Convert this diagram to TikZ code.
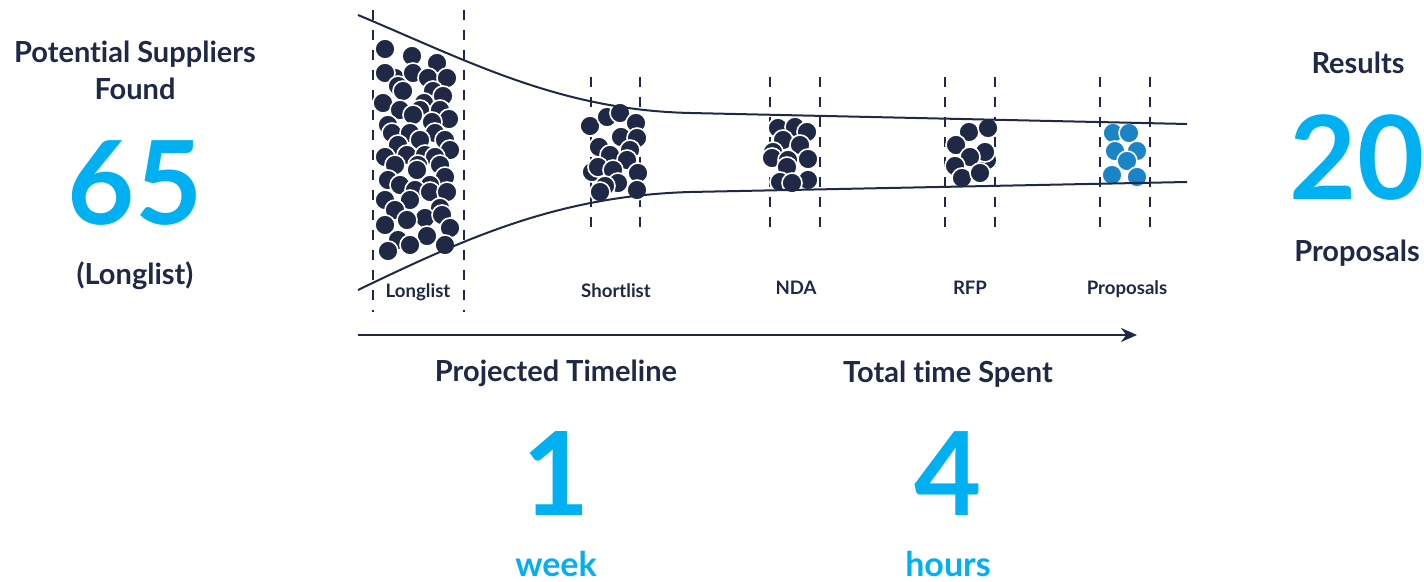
\documentclass[tikz,border=0pt]{standalone}
\usepackage{fontspec}
\setmainfont{Lato}[Ligatures=NoCommon]
\usetikzlibrary{arrows.meta}
\definecolor{navy}{HTML}{1F2845}
\definecolor{skyblue}{HTML}{00B0F0}
\definecolor{propblue}{HTML}{1B84C6}
\begin{document}
\begin{tikzpicture}[x=0.5pt, y=-0.5pt,
  every node/.style = {inner sep=0pt, anchor=base},
  heading/.style = {font=\fontsize{14.5}{18}\selectfont\bfseries, text=navy},
  bignum/.style = {font=\fontsize{58}{58}\selectfont\bfseries, text=skyblue},
  unit/.style = {font=\fontsize{17}{20}\selectfont\bfseries, text=skyblue},
  stage/.style = {font=\fontsize{9.3}{11}\selectfont\bfseries, text=navy},
  cut/.style = {draw=navy, line width=0.8pt, dash pattern=on 5pt off 5pt},
  funnel/.style = {draw=navy, line width=1pt},
  dot/.style = {fill=navy, draw=white, line width=0.8pt},
  propdot/.style = {fill=propblue, draw=white, line width=0.8pt}]
  \useasboundingbox (0,0) rectangle (1424,582);

  \draw[cut] (373,10) -- (373,312);
  \draw[cut] (464,10) -- (464,312);
  \foreach \xc in {591,640,770,820,945,995,1100,1150}
    \draw[cut] (\xc,77) -- (\xc,236);

  \foreach \px/\py in {385/49,412/56,437/63,395/78,385/73,413/73,428/78,447/78,398/86,
    403/91,433/91,443/96,383/103,424/103,400/110,420/110,440/110,413/115,449/119,
    388/125,432/122,392/133,410/133,435/133,420/140,445/140,398/145,450/150,
    407/155,425/155,385/157,435/157,395/165,418/165,440/165,417/170,445/177,
    388/180,400/185,430/185,415/190,430/192,447/192,385/200,410/200,395/210,
    440/208,425/218,442/215,407/220,385/225,450/228,427/236,398/240,410/245,
    445/245,388/251}
    \fill[dot] (\px,\py) circle (10);
  \foreach \px/\py in {590/126,607/117,620/113,636/123,621/137,637/138,599/147,
    630/150,610/155,627/160,592/172,598/167,613/170,638/173,618/183,605/186,
    600/192,637/190}
    \fill[dot] (\px,\py) circle (10);
  \foreach \px/\py in {778/128,795/127,807/132,783/140,800/145,773/152,772/158,
    788/160,808/159,787/167,780/182,808/180,792/183}
    \fill[dot] (\px,\py) circle (10);
  \foreach \px/\py in {969/132,988/128,956/145,987/160,985/152,970/157,955/166,
    962/178,980/173}
    \fill[dot] (\px,\py) circle (10);
  \foreach \px/\py in {1113/133,1129/133,1115/151,1137/151,1127/161,1112/175,1137/177}
    \fill[propdot] (\px,\py) circle (10);

  \draw[funnel] (358,15) .. controls (470,62) and (560,110) .. (690,113) -- (1187,124);
  \draw[funnel] (358,290) .. controls (470,236) and (560,196) .. (690,192) -- (1187,182);

  \node[stage] (longlist) at (418,298) {Longlist};
  \node[stage] (shortlist) at (616,298) {Shortlist};
  \node[stage] (nda) at (796,295) {NDA};
  \node[stage] (rfp) at (970,295) {RFP};
  \node[stage] (proposals) at (1127,295) {Proposals};

  \coordinate (tstart) at (358,335);
  \coordinate (tend) at (1137,335);
  \draw[navy, line width=1.2pt, -{Stealth[length=8pt, width=7pt]}] (tstart) -- (tend);

  \node[heading] (found1) at (135,63) {Potential Suppliers};
  \node[heading] (found2) at (135,100) {Found};
  \node[bignum] (sixtyfive) at (135,225) {65};
  \node[heading] (longnote) at (135,285) {(Longlist)};

  \node[heading] (results) at (1358,74) {Results};
  \node[bignum] (twenty) at (1357,200) {20};
  \node[heading] (proposalsnote) at (1357,262) {Proposals};

  \node[heading] (projected) at (556,382) {Projected Timeline};
  \node[bignum] (one) at (556,515) {1};
  \node[unit] (week) at (556,576) {week};

  \node[heading] (spent) at (948,383) {Total time Spent};
  \node[bignum] (four) at (948,515) {4};
  \node[unit] (hours) at (948,576) {hours};
\end{tikzpicture}
\end{document}
